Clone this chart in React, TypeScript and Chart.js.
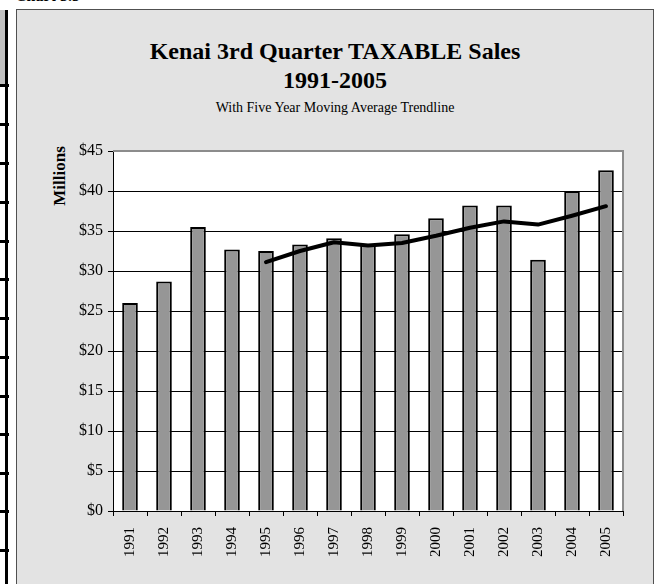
import React, { useEffect, useRef } from "react";
import { Chart, registerables } from "chart.js";

Chart.register(...registerables);

const years = ["1991", "1992", "1993", "1994", "1995", "1996", "1997", "1998", "1999", "2000", "2001", "2002", "2003", "2004", "2005"];
const taxableSales = [26.0, 28.7, 35.5, 32.7, 32.5, 33.3, 34.1, 33.3, 34.6, 36.6, 38.2, 38.2, 31.4, 40.0, 42.6];
const movingAverage = [null, null, null, null, 31.1, 32.5, 33.6, 33.2, 33.5, 34.4, 35.4, 36.2, 35.8, 36.9, 38.1];
const yTicks = { min: 0, max: 45, step: 5 };

const SERIF = "'Liberation Serif', 'Times New Roman', serif";
const stripLines = [85, 124, 163, 202, 241, 279, 318, 357, 396, 434, 473, 511, 550];

const plotDecor = {
  id: "plotDecor",
  beforeDraw(chart: any) {
    const { ctx, chartArea: a } = chart;
    ctx.save();
    ctx.fillStyle = "#ffffff";
    ctx.fillRect(a.left, a.top, a.right - a.left, a.bottom - a.top);
    ctx.restore();
  },
  afterDraw(chart: any) {
    const { ctx, chartArea: a } = chart;
    ctx.save();
    ctx.strokeStyle = "#8c8c8c";
    ctx.lineWidth = 2;
    ctx.beginPath();
    ctx.moveTo(a.left, a.top);
    ctx.lineTo(a.right, a.top);
    ctx.lineTo(a.right, a.bottom);
    ctx.stroke();
    ctx.restore();
  },
};

export default function App() {
  const ref = useRef<HTMLCanvasElement>(null);

  useEffect(() => {
    document.body.style.margin = "0";
    const chart = new Chart(ref.current!, {
      type: "bar",
      data: {
        labels: years,
        datasets: [
          {
            type: "line",
            label: "Five Year Moving Average",
            data: movingAverage as any,
            borderColor: "#000000",
            borderWidth: 4,
            pointRadius: 0,
            tension: 0,
            borderCapStyle: "round",
            borderJoinStyle: "round",
            order: 0,
          } as any,
          {
            type: "bar",
            label: "Taxable Sales",
            data: taxableSales,
            backgroundColor: "#969696",
            borderColor: "#000000",
            borderWidth: 2,
            barPercentage: 0.46,
            categoryPercentage: 1,
            order: 1,
          },
        ],
      },
      options: {
        animation: false,
        responsive: false,
        maintainAspectRatio: false,
        layout: { padding: { top: 151, right: 35, bottom: 0, left: 0 } },
        plugins: { legend: { display: false }, tooltip: { enabled: false }, title: { display: false } },
        scales: {
          x: {
            offset: true,
            afterFit: (s: any) => { s.height = 73; },
            grid: { drawOnChartArea: false, drawTicks: true, tickLength: 5, color: "#000000", offset: true },
            border: { color: "#000000", width: 1 },
            ticks: {
              minRotation: 90,
              maxRotation: 90,
              autoSkip: false,
              padding: 11,
              color: "#000000",
              font: { family: SERIF, size: 15 },
            },
          },
          y: {
            min: yTicks.min,
            max: yTicks.max,
            afterFit: (s: any) => { s.width = 113; },
            grid: { color: "#000000", lineWidth: 1, tickLength: 5, drawTicks: true },
            border: { color: "#000000", width: 1 },
            ticks: {
              stepSize: yTicks.step,
              padding: 5,
              color: "#000000",
              font: { family: SERIF, size: 16 },
              callback: (v: any) => "$" + v,
            },
          },
        },
      },
      plugins: [plotDecor],
    });
    return () => chart.destroy();
  }, []);

  const text = (s: React.CSSProperties): React.CSSProperties => ({
    position: "absolute",
    fontFamily: SERIF,
    color: "#000",
    whiteSpace: "nowrap",
    ...s,
  });

  return (
    <div style={{ position: "relative", width: 658, height: 584, overflow: "hidden", background: "#ffffff" }}>
      {/* left strip (cropped spreadsheet) */}
      <div style={{ position: "absolute", left: 0, top: 10, width: 5, height: 74, background: "#c0c0c0" }} />
      <div style={{ position: "absolute", left: 5, top: 10, width: 3, height: 600, background: "#000" }} />
      {stripLines.map((y) => (
        <div key={y} style={{ position: "absolute", left: 0, top: y - 1, width: 9, height: 3, background: "#000" }} />
      ))}
      <div style={text({ left: 15, top: -12, fontSize: 16, fontWeight: "bold", lineHeight: "16px" })}>Chart 5.3</div>

      {/* panel */}
      <div
        style={{
          position: "absolute",
          left: 16,
          top: 9,
          width: 636,
          height: 600,
          background: "#e3e3e3",
          border: "1px solid #505050",
        }}
      />
      <div style={text({ left: 16, width: 638, top: 39, textAlign: "center", fontSize: 24, fontWeight: "bold", lineHeight: "24px" })}>
        Kenai 3rd Quarter TAXABLE Sales
      </div>
      <div style={text({ left: 16, width: 638, top: 68, textAlign: "center", fontSize: 24, fontWeight: "bold", lineHeight: "24px" })}>
        1991-2005
      </div>
      <div style={text({ left: 16, width: 638, top: 101, textAlign: "center", fontSize: 14, lineHeight: "14px" })}>
        With Five Year Moving Average Trendline
      </div>
      <div
        style={text({
          left: 59,
          top: 176,
          fontSize: 17,
          fontWeight: "bold",
          lineHeight: "17px",
          transform: "translate(-50%, -50%) rotate(-90deg)",
        })}
      >
        Millions
      </div>
      <canvas ref={ref} width={658} height={584} style={{ position: "absolute", left: 0, top: 0, width: 658, height: 584 }} />
    </div>
  );
}
